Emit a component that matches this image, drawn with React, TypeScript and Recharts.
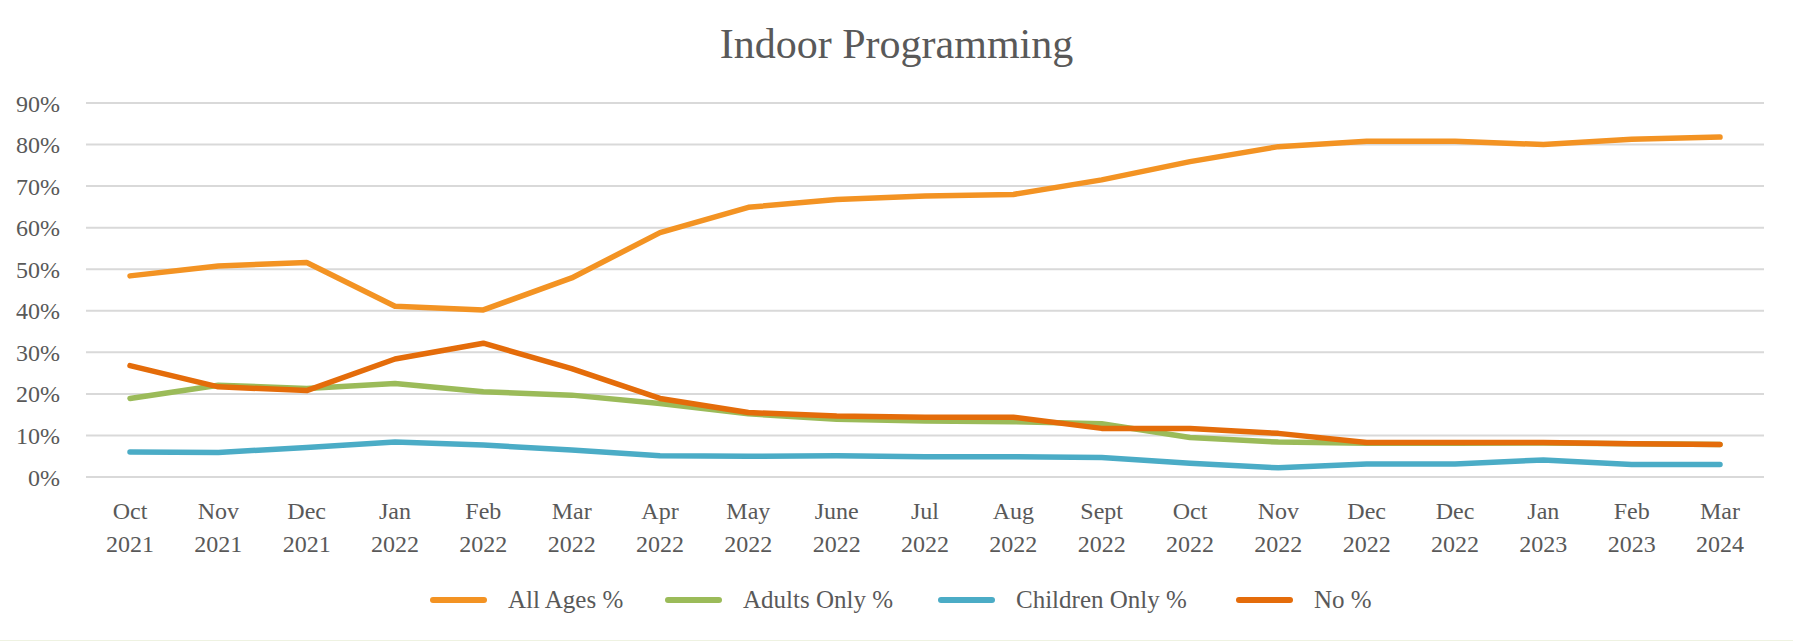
import React from 'react';
import { LineChart, Line, XAxis, YAxis, CartesianGrid, Legend } from 'recharts';

const months = ['Oct', 'Nov', 'Dec', 'Jan', 'Feb', 'Mar', 'Apr', 'May', 'June', 'Jul', 'Aug', 'Sept', 'Oct', 'Nov', 'Dec', 'Dec', 'Jan', 'Feb', 'Mar'];
const years = ['2021', '2021', '2021', '2022', '2022', '2022', '2022', '2022', '2022', '2022', '2022', '2022', '2022', '2022', '2022', '2022', '2023', '2023', '2024'];

const allAges = [48.4, 50.8, 51.6, 41.1, 40.2, 47.9, 58.8, 64.9, 66.8, 67.6, 68.0, 71.5, 75.9, 79.5, 80.8, 80.8, 80.0, 81.3, 81.8];
const adultsOnly = [18.9, 22.1, 21.3, 22.5, 20.5, 19.7, 17.7, 15.2, 13.9, 13.5, 13.3, 12.8, 9.5, 8.4, 8.1, 8.1, 8.2, 8.0, 7.8];
const childrenOnly = [6.0, 5.9, 7.1, 8.4, 7.7, 6.5, 5.1, 5.0, 5.1, 4.9, 4.9, 4.7, 3.3, 2.2, 3.1, 3.1, 4.1, 3.0, 3.0];
const noPct = [26.8, 21.7, 20.8, 28.4, 32.2, 26.1, 18.9, 15.5, 14.7, 14.4, 14.4, 11.7, 11.7, 10.5, 8.3, 8.3, 8.3, 8.0, 7.8];

const yTicks = [0, 10, 20, 30, 40, 50, 60, 70, 80, 90];

const series = [
  { key: 'allAges', name: 'All Ages %', color: '#F39323', textWidth: 117 },
  { key: 'adultsOnly', name: 'Adults Only %', color: '#9BBB59', textWidth: 155 },
  { key: 'childrenOnly', name: 'Children Only %', color: '#4BACC6', textWidth: 180 },
  { key: 'noPct', name: 'No %', color: '#E46C0A', textWidth: 60 },
];

const data = months.map((m, i) => ({
  label: `${m} ${years[i]}`,
  allAges: allAges[i],
  adultsOnly: adultsOnly[i],
  childrenOnly: childrenOnly[i],
  noPct: noPct[i],
}));

const FONT = '"Liberation Serif", "Times New Roman", serif';
const TEXT = '#595959';

const MonthTick = (props: any) => {
  const { x, payload } = props;
  const [m, y] = String(payload.value).split(' ');
  return (
    <g>
      <text x={x} y={519} textAnchor="middle" fill={TEXT} fontSize={24} fontFamily={FONT}>{m}</text>
      <text x={x} y={552} textAnchor="middle" fill={TEXT} fontSize={24} fontFamily={FONT}>{y}</text>
    </g>
  );
};

const LegendRow = () => (
  <div style={{ display: 'flex', alignItems: 'center', paddingLeft: 430, fontFamily: FONT, fontSize: 25, color: TEXT, lineHeight: '30px' }}>
    {series.map((s, i) => (
      <div key={s.key} style={{ display: 'flex', alignItems: 'center', marginRight: i < series.length - 1 ? 40 : 0 }}>
        <span style={{ display: 'inline-block', width: 57, height: 6, borderRadius: 3, background: s.color, marginRight: 21 }} />
        <span style={{ display: 'inline-block', width: s.textWidth, whiteSpace: 'nowrap' }}>{s.name}</span>
      </div>
    ))}
  </div>
);

export default function App() {
  return (
    <div style={{ position: 'relative', width: 1793, height: 641, background: '#fff' }}>
      <style>{'body{margin:0;}'}</style>
      <div style={{ position: 'absolute', top: 23, left: 0, width: 1793, textAlign: 'center', fontFamily: FONT, fontSize: 42, lineHeight: '42px', color: TEXT }}>
        Indoor Programming
      </div>
      <LineChart width={1793} height={641} data={data} margin={{ top: 103, right: 29, bottom: 64, left: 0 }}>
        <CartesianGrid vertical={false} stroke="#d9d9d9" strokeWidth={2} />
        <XAxis
          dataKey="label"
          interval={0}
          height={100}
          axisLine={false}
          tickLine={false}
          padding={{ left: 44, right: 44 }}
          tick={<MonthTick />}
        />
        <YAxis
          domain={[0, 90]}
          ticks={yTicks}
          width={86}
          axisLine={false}
          tickLine={false}
          tickSize={0}
          tickMargin={26}
          tickFormatter={(v: number) => `${v}%`}
          tick={{ fill: TEXT, fontSize: 24, fontFamily: FONT }}
        />
        <Legend
          layout="horizontal"
          verticalAlign="middle"
          align="center"
          content={<LegendRow />}
          wrapperStyle={{ top: 585, left: 0, width: 1793 }}
        />
        {series.map((s) => (
          <Line
            key={s.key}
            type="linear"
            dataKey={s.key}
            name={s.name}
            stroke={s.color}
            strokeWidth={5.5}
            strokeLinecap="round"
            strokeLinejoin="round"
            dot={false}
            activeDot={false}
            isAnimationActive={false}
          />
        ))}
      </LineChart>
      <div style={{ position: 'absolute', top: 640, left: 0, width: 1793, height: 1, background: '#eef2e1' }} />
    </div>
  );
}
